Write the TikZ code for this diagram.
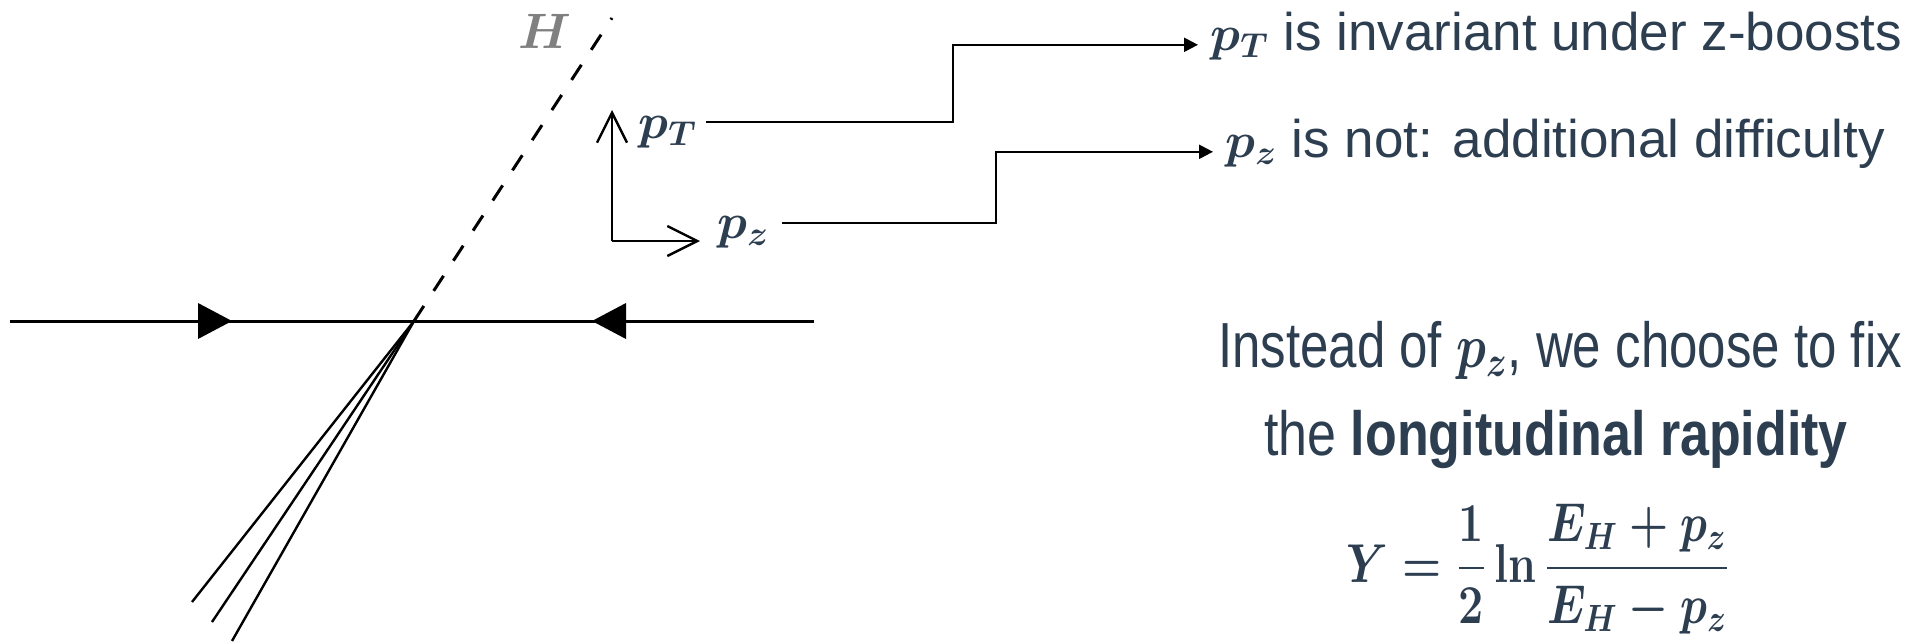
\documentclass[tikz,border=0pt]{standalone}
\usepackage{amsmath,bm}
\usepackage[no-math]{fontspec}
\setmainfont{Liberation Sans}
\usetikzlibrary{arrows.meta}
\definecolor{txt}{RGB}{44,62,80}
\definecolor{hgray}{RGB}{128,128,128}
\begin{document}
\begin{tikzpicture}[x=0.5pt,y=-0.5pt,
  beam/.style={line width=1.5pt},
  jet/.style={line width=1.2pt},
  tri/.style={fill=black},
  lbl/.style={text=txt, font=\fontsize{25}{30}\selectfont\boldmath, inner sep=0pt},
  body/.style={text=txt, font=\fontsize{25}{30}\selectfont\boldmath, inner sep=0pt, text height=0.72em, text depth=0.2em},
  conn/.style={line width=1.1pt, -{Triangle[length=7pt,width=7pt]}},
  axis/.style={line width=1.2pt, -{Straight Barb[length=15pt,width=15pt,line width=1.2pt]}},
]
\useasboundingbox (0,0) rectangle (1928,643);
% beam
\coordinate (v) at (414,321);
\coordinate (L) at (10,321);
\coordinate (R) at (814,321);
\draw[beam] (L) -- (R);
\fill[tri] (198,303) -- (232,321) -- (198,339) -- cycle;
\fill[tri] (626,303) -- (592,321) -- (626,339) -- cycle;
% Higgs
\coordinate (htop) at (612,18);
\draw[beam, dash pattern=on 9pt off 9pt] (v) -- (htop);
\node[text=hgray, font=\fontsize{26}{30}\selectfont\boldmath, inner sep=0pt] (H) at (545,31) {$H$};
% jets
\coordinate (j1) at (192,602);
\coordinate (j2) at (212,622);
\coordinate (j3) at (232,641);
\draw[jet] (v) -- (j1);
\draw[jet] (v) -- (j2);
\draw[jet] (v) -- (j3);
% axes
\coordinate (o) at (612,241);
\coordinate (ay) at (612,110);
\coordinate (ax) at (700,241);
\draw[axis] (o) -- (ay);
\draw[axis] (o) -- (ax);
\node[lbl, anchor=west] (pT) at (638,132) {$p_T$};
\node[lbl, anchor=west] (pz) at (717,232) {$p_z$};
% texts
\node[body, anchor=base west, font=\fontsize{26.5}{30}\selectfont\boldmath] (t1) at (1210,50) {$p_T$ is invariant under z-boosts};
\node[body, anchor=base west, font=\fontsize{26.5}{30}\selectfont\boldmath] (t2) at (1225,157) {$p_z$ is not: additional difficulty};
\node[body, anchor=base, yscale=1.25, font=\fontsize{25.5}{30}\selectfont\boldmath] (t3) at (1560,367) {Instead of $p_z$, we choose to fix};
\node[body, anchor=base, yscale=1.2, font=\fontsize{26}{30}\selectfont\boldmath] (t4) at (1556,455) {the \textbf{longitudinal rapidity}};
\node[lbl, anchor=base, xscale=0.9, yscale=1.1] (f) at (1538,582) {$\displaystyle Y=\frac{1}{2}\ln\frac{E_H+p_z}{E_H-p_z}$};
% connectors
\coordinate (pTo) at (706,122);
\coordinate (pzo) at (782,223);
\draw[conn] (pTo) -- (953,122) |- ([xshift=-6pt]t1.west);
\draw[conn] (pzo) -- (996,223) |- ([xshift=-6pt]t2.west);
\end{tikzpicture}
\end{document}
